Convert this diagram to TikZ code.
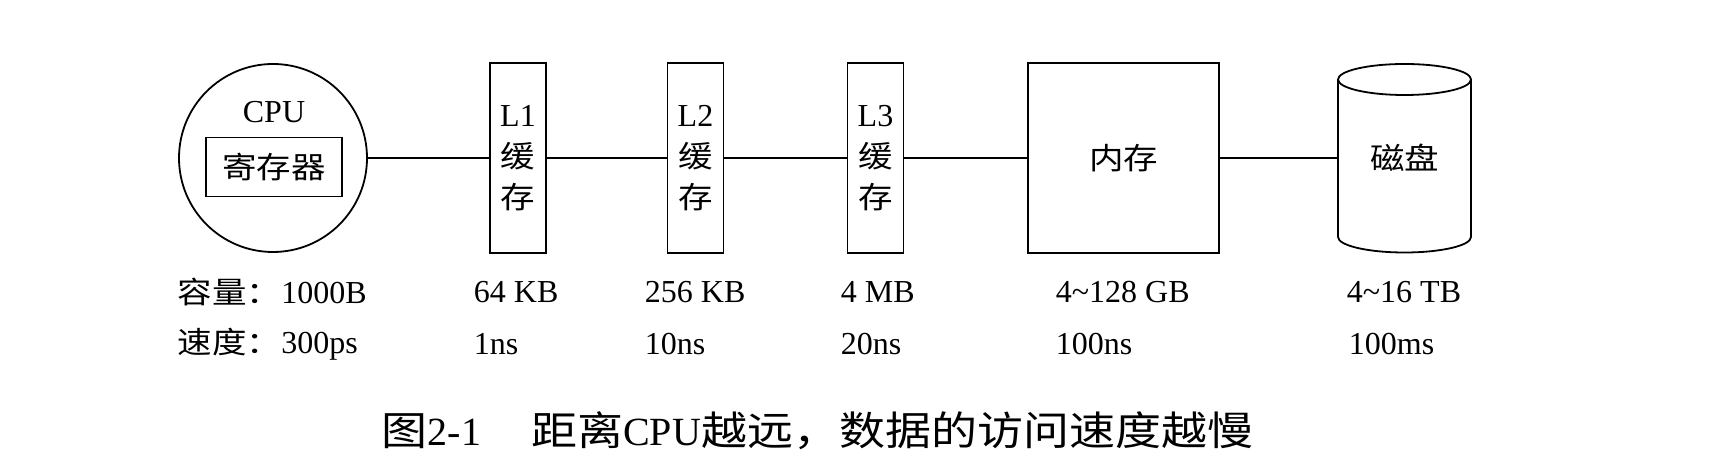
\documentclass[tikz,border=0pt]{standalone}
\usepackage{fontspec}
\setmainfont{Liberation Serif}
\newfontfamily\cjk[FakeStretch=1.15]{Noto Sans CJK SC}
\newcommand{\zh}[1]{{\cjk\fontsize{15}{18}\selectfont #1}}
\usetikzlibrary{positioning}

\begin{document}
\begin{tikzpicture}[x=0.5pt,y=-0.5pt,line width=0.9pt,
  cachebox/.style={draw,minimum width=28pt,minimum height=95pt,inner sep=0pt,align=center,
    font=\fontsize{16}{20.5}\selectfont},
  info/.style={anchor=west,inner sep=0pt,font=\fontsize{16}{18}\selectfont}]
  \useasboundingbox (0,0) rectangle (1733,474);

  % CPU with its registers
  \node[draw,circle,minimum size=94pt,inner sep=0pt] (cpu) at (273,158) {};
  \node[font=\fontsize{16}{18}\selectfont] (cpuname) at (274,112) {CPU};
  \node[draw,minimum width=68pt,minimum height=29.5pt,inner sep=0pt] (reg) at (274,167) {\zh{寄存器}};

  % caches, memory, disk
  \node[cachebox] (l1) at (518,158) {L1\\\zh{缓}\\\zh{存}};
  \node[cachebox] (l2) at (695.5,158) {L2\\\zh{缓}\\\zh{存}};
  \node[cachebox] (l3) at (875.5,158) {L3\\\zh{缓}\\\zh{存}};
  \node[draw,minimum width=95.5pt,minimum height=95pt,inner sep=0pt] (mem) at (1123.5,158) {\zh{内存}};
  \node[minimum width=66.5pt,minimum height=94.5pt,inner sep=0pt] (disk) at (1404.5,158) {\zh{磁盘}};
  \draw (1404.5,79.5) ellipse [x radius=66.5,y radius=15.5];
  \draw (1338,79.5) -- (1338,237) arc [start angle=180,end angle=0,x radius=66.5,y radius=15.5] -- (1471,79.5);

  \foreach \a/\b in {cpu/l1,l1/l2,l2/l3,l3/mem,mem/disk}
    \draw (\a.east) -- (\b.west);

  % capacity and speed
  \node[info] (cap0) at (177,292) {\zh{容量：}1000B};
  \node[info] (spd0) at (177,344) {\zh{速度：}300ps};
  \node[info] (cap1) at (473,292) {64 KB};
  \node[info] (spd1) at (473,344) {1ns};
  \node[info] (cap2) at (644,292) {256 KB};
  \node[info] (spd2) at (644,344) {10ns};
  \node[info] (cap3) at (840,292) {4 MB};
  \node[info] (spd3) at (840,344) {20ns};
  \node[info] (cap4) at (1055,292) {4\textasciitilde128 GB};
  \node[info] (spd4) at (1055,344) {100ns};
  \node[info] (cap5) at (1346,292) {4\textasciitilde16 TB};
  \node[info] (spd5) at (1348,344) {100ms};

  \node[font=\fontsize{20}{24}\selectfont] (caption) at (817.5,431)
    {{\cjk 图}2-1\hspace{25pt}{\cjk 距离}CPU{\cjk 越远，数据的访问速度越慢}};
\end{tikzpicture}
\end{document}
